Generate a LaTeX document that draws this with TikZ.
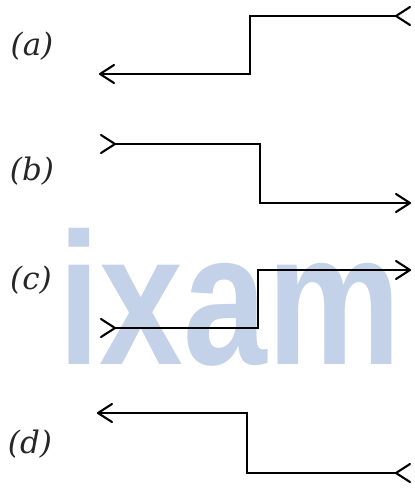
\documentclass[tikz,border=0pt]{standalone}
\usepackage{fontspec}
\newfontfamily\wmfont{Liberation Sans}
\newfontfamily\lblfont{DejaVu Serif}
\definecolor{wmblue}{RGB}{196,210,233}
\begin{document}
\begin{tikzpicture}[x=1pt,y=-1pt,
  wire/.style={line width=2.1pt,line join=miter,black},
  barb/.style={line width=2.1pt,line join=round,line cap=round,black},
  lbl/.style={font=\lblfont\fontsize{31}{34}\selectfont\itshape,inner sep=0pt,text=black!85},
  lbarb/.pic={\draw[barb] (14,-9) -- (0,0) -- (14,9);},
  rbarb/.pic={\draw[barb] (-14,-9) -- (0,0) -- (-14,9);}]
\useasboundingbox (0,0) rectangle (415,490);
% watermark
\node[font=\wmfont\bfseries\fontsize{188}{188}\selectfont,text=wmblue,anchor=base west,inner sep=0pt,xscale=0.8] (wm) at (58,364) {ixam};
% labels
\node[lbl] (la) at (32,46) {(a)};
\node[lbl] (lb) at (32,171) {(b)};
\node[lbl] (lc) at (31,280) {(c)};
\node[lbl] (ld) at (30,444) {(d)};
% (a)
\coordinate (a1) at (396,16); \coordinate (a2) at (250,16);
\coordinate (a3) at (250,74); \coordinate (a4) at (100,74);
\draw[wire] (a1) -- (a2) -- (a3) -- (a4);
\pic at (a1) {lbarb}; \pic at (a4) {lbarb};
% (b)
\coordinate (b1) at (115,144); \coordinate (b2) at (260,144);
\coordinate (b3) at (260,203); \coordinate (b4) at (410,203);
\draw[wire] (b1) -- (b2) -- (b3) -- (b4);
\pic at (b1) {rbarb}; \pic at (b4) {rbarb};
% (c)
\coordinate (c1) at (115,328); \coordinate (c2) at (258,328);
\coordinate (c3) at (258,270); \coordinate (c4) at (410,270);
\draw[wire] (c1) -- (c2) -- (c3) -- (c4);
\pic at (c1) {rbarb}; \pic at (c4) {rbarb};
% (d)
\coordinate (d1) at (396,473); \coordinate (d2) at (247,473);
\coordinate (d3) at (247,413); \coordinate (d4) at (98,413);
\draw[wire] (d1) -- (d2) -- (d3) -- (d4);
\pic at (d1) {lbarb}; \pic at (d4) {lbarb};
\end{tikzpicture}
\end{document}
